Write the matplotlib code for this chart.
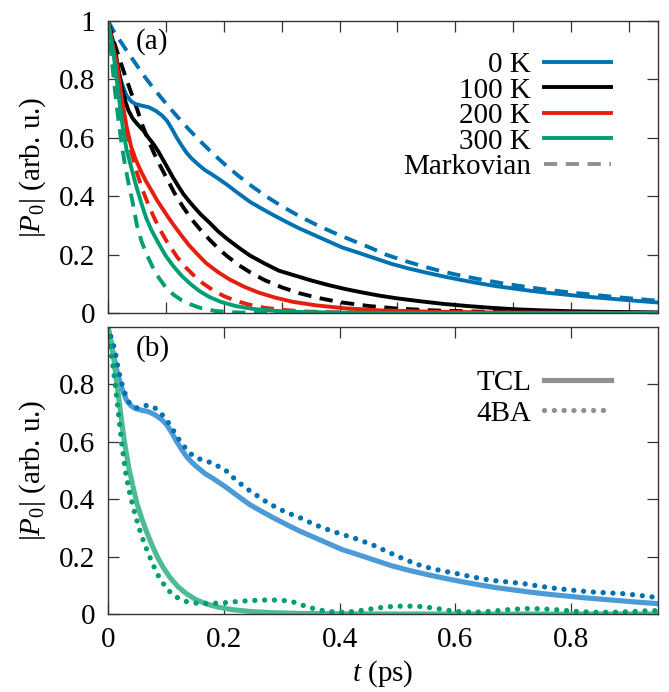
import numpy as np
import matplotlib
matplotlib.use("Agg")
import matplotlib.pyplot as plt
from matplotlib.lines import Line2D
from matplotlib.ticker import FuncFormatter

plt.rcParams["font.family"] = "Liberation Serif"
plt.rcParams["mathtext.fontset"] = "custom"
plt.rcParams["mathtext.rm"] = "Liberation Serif"
plt.rcParams["mathtext.it"] = "Liberation Serif:italic"
plt.rcParams["font.size"] = 21

# ---- panel (a): TCL at several temperatures, plus Markovian ----
t_0k = [0, 0.005, 0.01, 0.015, 0.021, 0.027, 0.032, 0.04, 0.047, 0.058, 0.07, 0.082, 0.093,
        0.102, 0.11, 0.118, 0.127, 0.136, 0.145, 0.155, 0.167, 0.18, 0.192, 0.205, 0.225,
        0.245, 0.265, 0.285, 0.31, 0.33, 0.355, 0.38, 0.405, 0.43, 0.46, 0.49, 0.52, 0.55,
        0.58, 0.61, 0.64, 0.67, 0.70, 0.73, 0.76, 0.79, 0.82, 0.85, 0.88, 0.91, 0.95]
p_0k = [1.0, 0.95, 0.9, 0.85, 0.805, 0.77, 0.745, 0.725, 0.716, 0.71, 0.705, 0.693, 0.677,
        0.658, 0.632, 0.603, 0.574, 0.548, 0.528, 0.51, 0.49, 0.474, 0.458, 0.44, 0.41,
        0.381, 0.358, 0.336, 0.31, 0.29, 0.268, 0.246, 0.224, 0.208, 0.188, 0.168, 0.152, 0.138,
        0.125, 0.113, 0.102, 0.092, 0.084, 0.076, 0.069, 0.063, 0.057, 0.052, 0.047, 0.042, 0.036]

t_0k_m = [0, 0.01, 0.02, 0.03, 0.045, 0.06, 0.075, 0.09, 0.105, 0.12, 0.14, 0.16, 0.18, 0.2,
          0.225, 0.25, 0.275, 0.3, 0.33, 0.36, 0.39, 0.42, 0.45, 0.48, 0.51, 0.54, 0.57, 0.6,
          0.64, 0.68, 0.72, 0.76, 0.8, 0.84, 0.88, 0.92, 0.95]
p_0k_m = [1.0, 0.965, 0.935, 0.905, 0.862, 0.818, 0.779, 0.742, 0.706, 0.672, 0.628, 0.587,
          0.548, 0.512, 0.47, 0.432, 0.397, 0.366, 0.332, 0.302, 0.275, 0.25, 0.226, 0.2,
          0.18, 0.162, 0.146, 0.132, 0.116, 0.102, 0.09, 0.079, 0.07, 0.062, 0.054, 0.047, 0.042]

t_100k = [0, 0.006, 0.012, 0.018, 0.024, 0.03, 0.035, 0.043, 0.052, 0.061, 0.07, 0.078, 0.087,
          0.095, 0.103, 0.112, 0.121, 0.13, 0.14, 0.15, 0.16, 0.175, 0.19, 0.205, 0.225, 0.245,
          0.27, 0.295, 0.32, 0.35, 0.38, 0.41, 0.44, 0.47, 0.5, 0.54, 0.58, 0.62, 0.66, 0.7,
          0.75, 0.8, 0.86, 0.95]
p_100k = [1.0, 0.95, 0.906, 0.835, 0.77, 0.725, 0.695, 0.665, 0.644, 0.625, 0.6, 0.58, 0.553,
          0.525, 0.497, 0.465, 0.436, 0.408, 0.383, 0.36, 0.338, 0.31, 0.28, 0.255, 0.225, 0.197,
          0.17, 0.145, 0.13, 0.112, 0.096, 0.082, 0.07, 0.059, 0.05, 0.04, 0.031, 0.024, 0.018,
          0.013, 0.009, 0.006, 0.004, 0.002]

t_100k_m = [0, 0.01, 0.02, 0.03, 0.04, 0.05, 0.06, 0.07, 0.08, 0.09, 0.1, 0.115, 0.13, 0.145,
            0.16, 0.175, 0.19, 0.205, 0.225, 0.245, 0.27, 0.3, 0.33, 0.36, 0.4, 0.45, 0.5, 0.56,
            0.63, 0.72, 0.82, 0.95]
p_100k_m = [1.0, 0.93, 0.87, 0.81, 0.755, 0.7, 0.64, 0.59, 0.545, 0.505, 0.467, 0.41, 0.362,
            0.32, 0.284, 0.252, 0.222, 0.196, 0.165, 0.14, 0.113, 0.088, 0.068, 0.053, 0.037,
            0.024, 0.015, 0.009, 0.005, 0.002, 0.001, 0.0]

t_200k = [0, 0.005, 0.01, 0.015, 0.02, 0.025, 0.032, 0.04, 0.048, 0.057, 0.066, 0.075, 0.085,
          0.095, 0.105, 0.115, 0.127, 0.14, 0.155, 0.17, 0.19, 0.21, 0.235, 0.26, 0.29, 0.32,
          0.36, 0.41, 0.47, 0.55, 0.65, 0.8, 0.95]
p_200k = [1.0, 0.95, 0.9, 0.86, 0.79, 0.72, 0.64, 0.57, 0.525, 0.485, 0.45, 0.42, 0.385,
          0.355, 0.325, 0.297, 0.265, 0.232, 0.2, 0.17, 0.14, 0.115, 0.09, 0.07, 0.052, 0.038,
          0.026, 0.016, 0.009, 0.005, 0.002, 0.001, 0.0]

t_200k_m = [0, 0.008, 0.016, 0.024, 0.032, 0.04, 0.05, 0.06, 0.07, 0.08, 0.09, 0.1, 0.11, 0.12,
            0.135, 0.15, 0.165, 0.18, 0.2, 0.22, 0.245, 0.27, 0.3, 0.34, 0.4, 0.5, 0.95]
p_200k_m = [1.0, 0.89, 0.79, 0.7, 0.625, 0.555, 0.48, 0.42, 0.37, 0.325, 0.285, 0.25, 0.22,
            0.19, 0.155, 0.125, 0.1, 0.08, 0.058, 0.042, 0.028, 0.018, 0.011, 0.005, 0.002, 0.0, 0.0]

t_300k = [0, 0.005, 0.01, 0.015, 0.02, 0.026, 0.032, 0.04, 0.048, 0.057, 0.066, 0.076, 0.087,
          0.1, 0.113, 0.127, 0.142, 0.158, 0.175, 0.195, 0.22, 0.25, 0.29, 0.34, 0.42, 0.55, 0.95]
p_300k = [1.0, 0.94, 0.88, 0.8, 0.72, 0.63, 0.56, 0.5, 0.44, 0.38, 0.325, 0.28, 0.24,
          0.195, 0.16, 0.128, 0.1, 0.075, 0.055, 0.038, 0.024, 0.014, 0.007, 0.003, 0.001, 0.0, 0.0]

t_300k_m = [0, 0.005, 0.01, 0.015, 0.02, 0.025, 0.03, 0.036, 0.042, 0.05, 0.058, 0.067, 0.077,
            0.088, 0.1, 0.113, 0.127, 0.142, 0.16, 0.185, 0.22, 0.28, 0.95]
p_300k_m = [1.0, 0.9, 0.8, 0.71, 0.63, 0.56, 0.5, 0.44, 0.385, 0.3, 0.245, 0.2, 0.158,
            0.12, 0.087, 0.063, 0.044, 0.03, 0.017, 0.007, 0.002, 0.0, 0.0]

# ---- panel (b): TCL vs 4BA at 0 K and 300 K ----
t_tcl_300k = [0, 0.005, 0.01, 0.015, 0.02, 0.025, 0.03, 0.036, 0.043, 0.05, 0.058, 0.066,
              0.075, 0.085, 0.096, 0.108, 0.121, 0.136, 0.152, 0.17, 0.19, 0.215, 0.245, 0.28,
              0.33, 0.4, 0.5, 0.95]
p_tcl_300k = [1.0, 0.95, 0.89, 0.81, 0.73, 0.65, 0.58, 0.51, 0.445, 0.385, 0.335, 0.29,
              0.245, 0.2, 0.16, 0.125, 0.095, 0.07, 0.05, 0.035, 0.024, 0.015, 0.009, 0.005,
              0.002, 0.001, 0.0, 0.0]

t_4ba_0k = [0, 0.006, 0.012, 0.018, 0.026, 0.035, 0.044, 0.052, 0.06, 0.067, 0.075, 0.084,
            0.092, 0.101, 0.108, 0.116, 0.125, 0.134, 0.143, 0.153, 0.165, 0.179, 0.19, 0.202,
            0.216, 0.23, 0.245, 0.26, 0.274, 0.29, 0.308, 0.33, 0.35, 0.371, 0.4, 0.429, 0.458,
            0.487, 0.515, 0.544, 0.573, 0.602, 0.63, 0.659, 0.688, 0.717, 0.745, 0.774, 0.803,
            0.832, 0.86, 0.889, 0.918, 0.947]
p_4ba_0k = [1.0, 0.96, 0.92, 0.85, 0.786, 0.74, 0.722, 0.717, 0.722, 0.727, 0.725, 0.714,
            0.698, 0.677, 0.655, 0.63, 0.6, 0.578, 0.558, 0.544, 0.535, 0.527, 0.515, 0.503,
            0.476, 0.452, 0.429, 0.409, 0.39, 0.372, 0.354, 0.337, 0.318, 0.3, 0.28, 0.262, 0.24,
            0.213, 0.188, 0.166, 0.152, 0.141, 0.129, 0.118, 0.112, 0.106, 0.097, 0.089, 0.083,
            0.077, 0.074, 0.071, 0.065, 0.058]

t_4ba_300k = [0, 0.006, 0.012, 0.018, 0.024, 0.03, 0.036, 0.043, 0.05, 0.058, 0.067, 0.076,
              0.085, 0.094, 0.103, 0.113, 0.124, 0.136, 0.15, 0.165, 0.18, 0.2, 0.22, 0.24, 0.26,
              0.28, 0.3, 0.32, 0.34, 0.36, 0.38, 0.4, 0.42, 0.44, 0.465, 0.49, 0.515, 0.54,
              0.565, 0.59, 0.615, 0.64, 0.665, 0.69, 0.72, 0.75, 0.78, 0.81, 0.84, 0.87, 0.9,
              0.93, 0.95]
p_4ba_300k = [1.0, 0.9, 0.81, 0.7, 0.59, 0.5, 0.435, 0.375, 0.325, 0.272, 0.225, 0.18, 0.14,
              0.11, 0.085, 0.066, 0.052, 0.043, 0.038, 0.037, 0.037, 0.039, 0.043, 0.046, 0.048,
              0.049, 0.048, 0.042, 0.028, 0.016, 0.009, 0.006, 0.008, 0.013, 0.021, 0.026, 0.028,
              0.026, 0.02, 0.012, 0.007, 0.007, 0.01, 0.015, 0.019, 0.018, 0.014, 0.009, 0.006,
              0.006, 0.008, 0.011, 0.012]

blue = "#0072b2"
black = "#000000"
red = "#e51e10"
green = "#009e73"
blue_light = "#4c9ad6"
green_light = "#4fba96"
grey = "#909090"

lw = 2.8
dash = dict(linestyle=(0, (3.4, 2.2)), dash_capstyle="butt")
dot = dict(linestyle=(0, (0.01, 1.85)), dash_capstyle="round")

fig = plt.figure(figsize=(6.69, 6.92), dpi=100)
ax1 = fig.add_axes([0.1614, 0.5477, 0.8222, 0.4220])
ax2 = fig.add_axes([0.1614, 0.1127, 0.8222, 0.4148])

# panel (a)
ax1.plot(t_0k_m, p_0k_m, color=blue, lw=lw, **dash)
ax1.plot(t_100k_m, p_100k_m, color=black, lw=lw, **dash)
ax1.plot(t_200k_m, p_200k_m, color=red, lw=lw, **dash)
ax1.plot(t_300k_m, p_300k_m, color=green, lw=lw, **dash)
ax1.plot(t_0k, p_0k, color=blue, lw=lw, label="0 K")
ax1.plot(t_100k, p_100k, color=black, lw=lw, label="100 K")
ax1.plot(t_200k, p_200k, color=red, lw=lw, label="200 K")
ax1.plot(t_300k, p_300k, color=green, lw=lw, label="300 K")

h1, l1 = ax1.get_legend_handles_labels()
h1.append(Line2D([], [], color=grey, lw=lw, **dash))
l1.append("Markovian")
ax1.legend(h1, l1, loc="upper right", bbox_to_anchor=(0.915, 0.895), frameon=False,
           markerfirst=False, handlelength=2.3, handletextpad=0.45, labelspacing=-0.03,
           borderpad=0, borderaxespad=0)

# panel (b)
ax2.plot(t_0k, p_0k, color=blue_light, lw=3.7)
ax2.plot(t_tcl_300k, p_tcl_300k, color=green_light, lw=3.7)
ax2.plot(t_4ba_0k, p_4ba_0k, color=blue, lw=3.8, **dot)
ax2.plot(t_4ba_300k, p_4ba_300k, color=green, lw=3.8, **dot)

h2 = [Line2D([], [], color=grey, lw=3.7), Line2D([], [], color=grey, lw=3.8, **dot)]
ax2.legend(h2, ["TCL", "4BA"], loc="upper right", bbox_to_anchor=(0.915, 0.85), frameon=False,
           markerfirst=False, handlelength=2.3, handletextpad=0.45, labelspacing=0.13,
           borderpad=0, borderaxespad=0)

fmt = FuncFormatter(lambda v, p: f"{v:g}")
for ax in (ax1, ax2):
    ax.set_xlim(0, 0.95)
    ax.set_ylim(0, 1)
    ax.tick_params(direction="in", length=8, width=0.9, top=True, right=True, pad=9,
                   color="#333333")
    for s in ax.spines.values():
        s.set_linewidth(1.0)
        s.set_color("#333333")
    ax.yaxis.set_major_formatter(fmt)
    ax.xaxis.set_major_formatter(fmt)
    ax.set_ylabel(r"$|P_0|$ (arb. u.)", labelpad=8)

ax1.set_xticks(np.arange(0, 0.96, 0.1))
ax1.set_yticks([0, 0.2, 0.4, 0.6, 0.8, 1.0])
ax1.tick_params(labelbottom=False)
ax2.set_xticks([0, 0.2, 0.4, 0.6, 0.8])
ax2.set_yticks([0, 0.2, 0.4, 0.6, 0.8])
ax2.set_xlabel(r"$t$ (ps)", labelpad=4)

ax1.text(0.05, 0.93, "(a)", transform=ax1.transAxes, ha="left", va="center")
ax2.text(0.05, 0.925, "(b)", transform=ax2.transAxes, ha="left", va="center")

fig.savefig("out.png", dpi=100)
